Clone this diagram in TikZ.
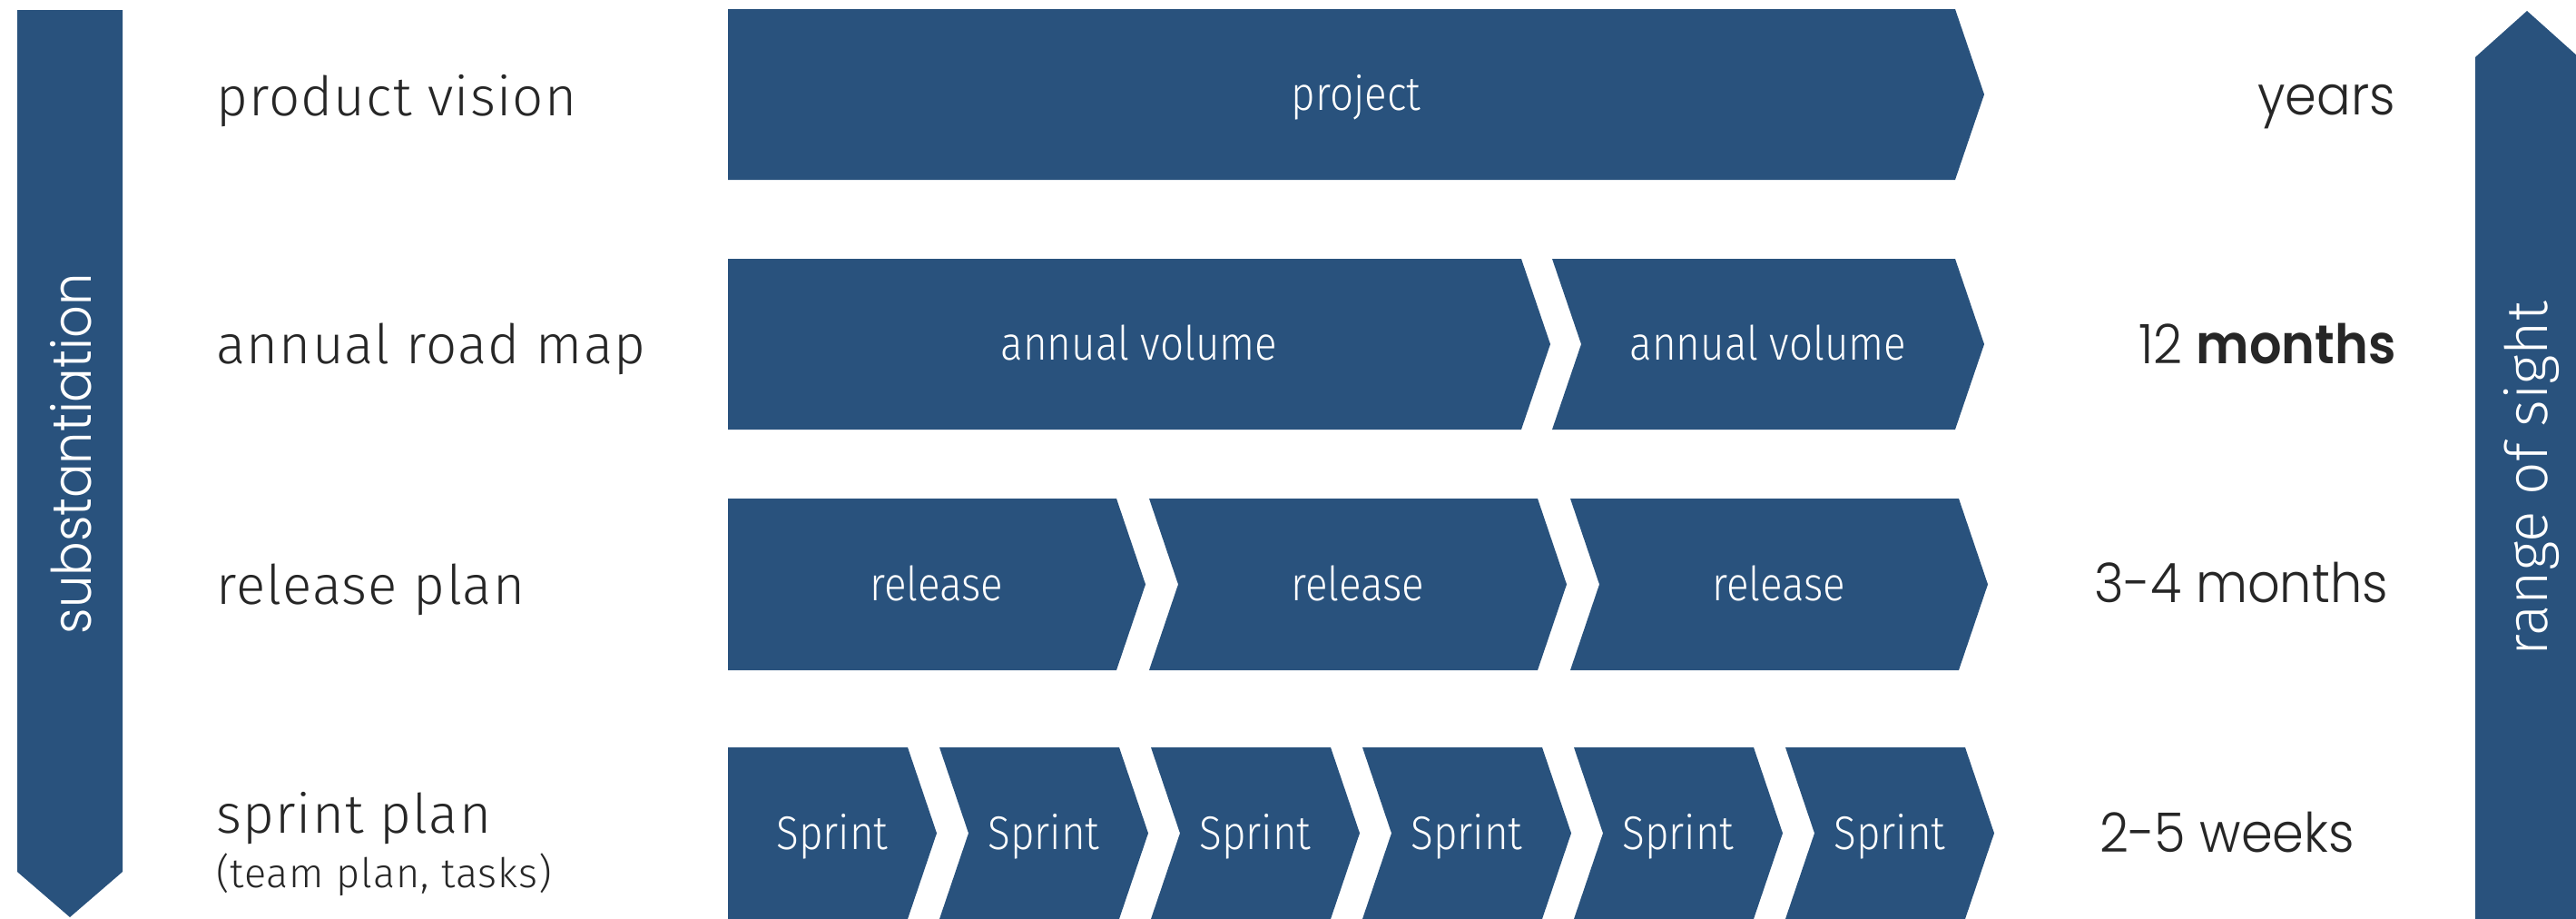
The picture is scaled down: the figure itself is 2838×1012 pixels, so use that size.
\documentclass[tikz,border=0pt]{standalone}
\usepackage{fontspec}
\newfontfamily\narrowfont{Fira Sans Light}[LetterSpace=2]
\newfontfamily\boxfont{Fira Sans Light}[FakeStretch=0.88]
\newfontfamily\sightfont{Fira Sans Light}
\newfontfamily\geofont{Poppins Light}[FakeStretch=0.93, BoldFont={Poppins SemiBold}]
\definecolor{barblue}{HTML}{29527D}
\definecolor{labelgray}{HTML}{262626}
\newcommand{\tipd}{32}
\newcommand{\chevron}[5]{% left, right, top, bottom, notch depth
  \fill[barblue] (#1,#3) -- (#2,#3) -- ({#2+\tipd},{(#3+#4)/2}) -- (#2,#4) -- (#1,#4) -- ({#1+#5},{(#3+#4)/2}) -- cycle;}
\tikzset{
  boxtext/.style={text=white, inner sep=0pt, anchor=base, font=\boxfont\fontsize{52}{60}\selectfont},
  rowlabel/.style={text=labelgray, inner sep=0pt, anchor=base west, font=\narrowfont\fontsize{60}{70}\selectfont},
  sublabel/.style={text=labelgray, inner sep=0pt, anchor=base west, font=\narrowfont\fontsize{45}{54}\selectfont},
  spanlabel/.style={text=labelgray, inner sep=0pt, anchor=base east, font=\geofont\fontsize{60}{72}\selectfont},
  barlabel/.style={text=white, inner sep=0pt, anchor=base, rotate=90},
}
\begin{document}
\begin{tikzpicture}[x=1pt,y=-1pt]
    \useasboundingbox (0,0) rectangle (2838,1012);

    % Side arrows
    \fill[barblue] (19,11) -- (135,11) -- (135,960) -- (77,1010) -- (19,960) -- cycle;
    \fill[barblue] (2727,1012) -- (2727,63) -- (2784,12) -- (2841,63) -- (2841,1012) -- cycle;
    \node[barlabel, font=\geofont\fontsize{60}{70}\selectfont] (subst) at (100,500) {substantiation};
    \node[barlabel, font=\sightfont\fontsize{64}{76}\selectfont] (sight) at (2806,527) {range of sight};

    % Row 1: product vision
    \chevron{802}{2154}{10}{198}{0}
    \node[boxtext] (project) at (1494,121) {project};

    % Row 2: annual road map
    \chevron{802}{1676}{285}{473}{0}
    \chevron{1710}{2154}{285}{473}{\tipd}
    \node[boxtext] (annual1) at (1255,396) {annual volume};
    \node[boxtext] (annual2) at (1948,396) {annual volume};

    % Row 3: release plan
    \foreach \i in {0,1,2} {
        \pgfmathsetmacro{\lft}{802+464*\i}
        \pgfmathsetmacro{\rgt}{\lft+428}
        \pgfmathsetmacro{\nch}{ifthenelse(\i==0,0,\tipd)}
        \chevron{\lft}{\rgt}{549}{738}{\nch}
        \node[boxtext] (release\i) at ({(\lft+\rgt)/2+16},661) {release};
    }

    % Row 4: sprint plan
    \foreach \i in {0,...,5} {
        \pgfmathsetmacro{\lft}{802+233*\i}
        \pgfmathsetmacro{\rgt}{\lft+198}
        \pgfmathsetmacro{\nch}{ifthenelse(\i==0,0,\tipd)}
        \chevron{\lft}{\rgt}{823}{1012}{\nch}
        \node[boxtext] (sprint\i) at ({(\lft+\rgt)/2+16},935) {Sprint};
    }

    % Row labels
    \node[rowlabel] (vision) at (238,127) {product vision};
    \node[rowlabel] (roadmap) at (238,400) {annual road map};
    \node[rowlabel] (relplan) at (238,665) {release plan};
    \node[rowlabel] (sprplan) at (238,917) {sprint plan};
    \node[sublabel] (team) at (238,977) {(team plan, tasks)};

    % Time spans
    \node[spanlabel] (years) at (2639,126) {years};
    \node[spanlabel] (twelve) at (2640,400) {12 \textbf{months}};
    \node[spanlabel] (months) at (2631,663) {3-4 months};
    \node[spanlabel] (weeks) at (2594,938) {2-5 weeks};
\end{tikzpicture}
\end{document}
